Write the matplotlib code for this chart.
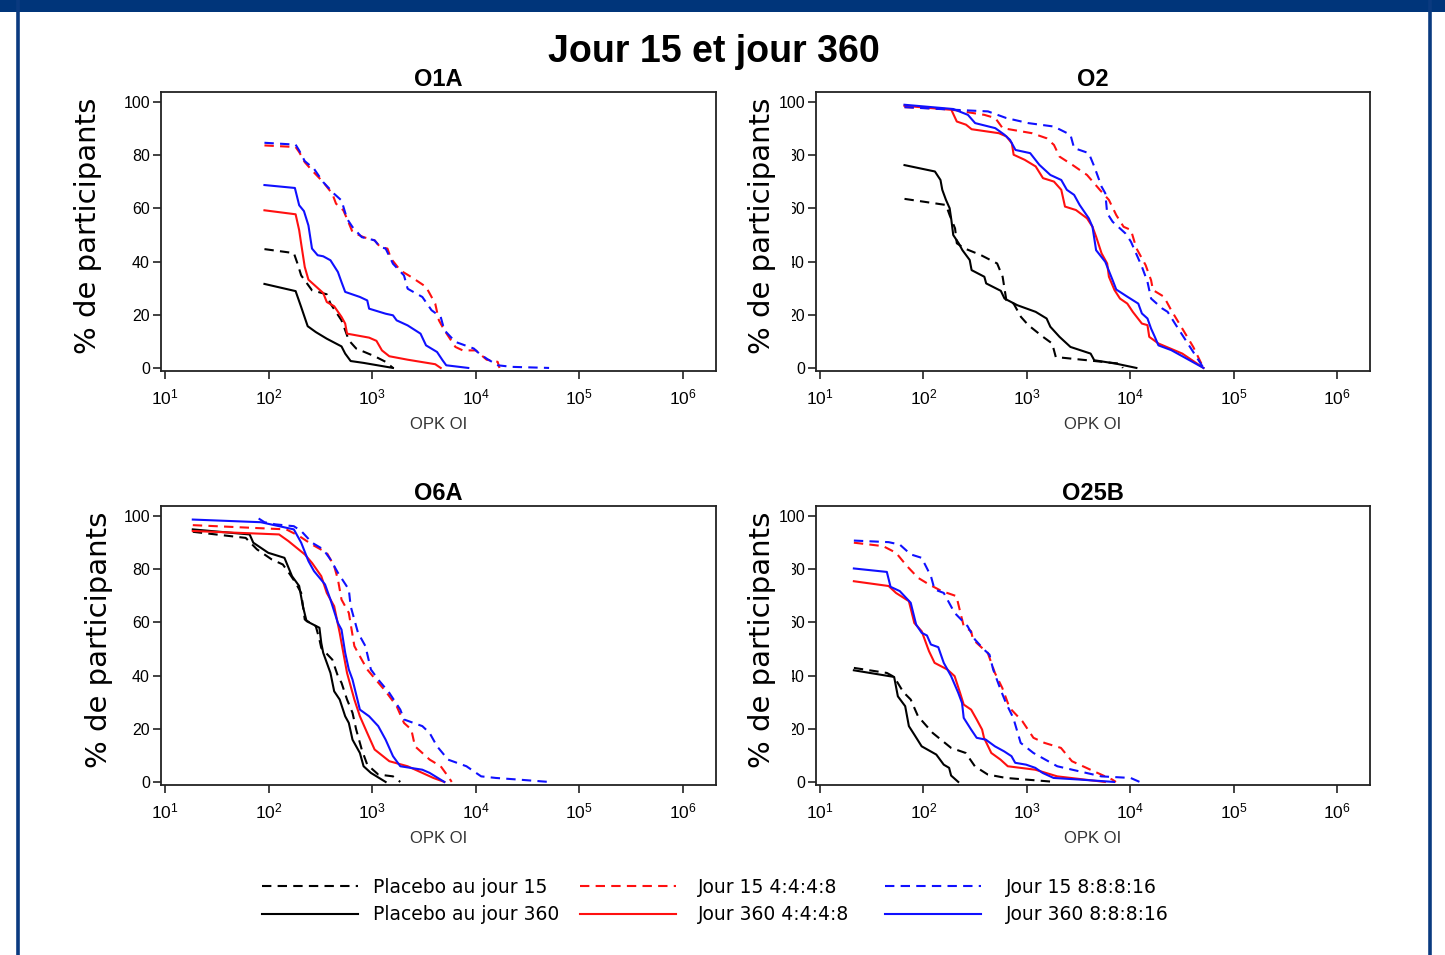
import matplotlib.pyplot as plt
from matplotlib.patches import Rectangle
from matplotlib.lines import Line2D

# ── Data (x = OPK OI titre, y = % of participants) ──
# O1A
o1a_p15_x = [91, 175, 190, 206, 262, 364, 395, 505, 548, 594, 700, 1054, 1347, 1586]
o1a_p15_y = [44.7, 43.2, 39.2, 34.8, 29.2, 27.7, 24.2, 17.9, 14.2, 10.4, 7.3, 4.4, 2.3, 0]
o1a_p360_x = [91, 182, 206, 238, 285, 364, 505, 548, 619, 825, 1586]
o1a_p360_y = [31.6, 28.9, 22.9, 15.7, 13.5, 11.0, 8.1, 5.4, 2.6, 1.9, 0]
o1a_d15_4_x = [91, 182, 197, 223, 262, 336, 412, 447, 526, 571, 645, 825, 1054, 1191,
               1403, 1522, 1867, 2385, 3307, 4059, 4404, 4972, 6356, 7480, 9980,
               12740, 16260, 16940]
o1a_d15_4_y = [83.7, 83.1, 81.2, 77.4, 74.3, 69.9, 65.5, 61.8, 59.3, 56.1, 51.1, 49.2,
               48.0, 45.5, 44.9, 41.1, 36.7, 34.2, 30.5, 24.2, 17.9, 14.2, 7.9, 6.6,
               6.6, 3.1, 2.3, 0]
o1a_d360_4_x = [91, 182, 197, 206, 223, 242, 336, 364, 429, 505, 548, 571, 933, 1098,
                1241, 1462, 2198, 4059, 4584]
o1a_d360_4_y = [59.3, 57.8, 51.8, 46.7, 38.0, 33.2, 28.2, 24.8, 23.2, 19.2, 16.7, 12.9,
                11.4, 10.2, 6.6, 4.4, 3.1, 1.4, 0]
o1a_d15_8_x = [91, 182, 197, 223, 274, 336, 429, 505, 571, 645, 792, 1054, 1191, 1347,
               1586, 2026, 2198, 3047, 3742, 4584, 4972, 6356, 9573, 10820, 12740,
               16260, 22530, 51050]
o1a_d15_8_y = [84.7, 84.0, 81.8, 77.8, 74.9, 69.9, 65.5, 63.0, 56.1, 53.0, 49.2, 48.0,
               45.5, 44.9, 39.2, 34.8, 29.8, 26.7, 21.7, 19.2, 14.2, 9.8, 7.3, 5.4,
               3.5, 1.0, 0.4, 0]
o1a_d360_8_x = [91, 179, 197, 219, 242, 262, 297, 336, 395, 466, 505, 548, 760, 895,
                933, 1347, 1586, 1721, 2198, 2927, 3307, 4227, 4775, 5183, 8466]
o1a_d360_8_y = [68.8, 67.7, 61.2, 59.0, 53.6, 44.9, 42.4, 42.0, 40.5, 36.1, 32.3, 28.6,
                26.7, 25.4, 22.3, 20.4, 19.8, 17.9, 16.0, 12.9, 8.5, 6.0, 2.9, 1.0, 0]

# O2
o2_p15_x = [65.5, 165, 179, 202, 210, 248, 357, 516, 583, 633, 745, 877, 1033, 1432,
            1758, 1905, 3819, 7962, 8492]
o2_p15_y = [63.6, 61.3, 57.5, 52.5, 46.9, 45.0, 42.5, 39.3, 34.3, 25.5, 24.2, 19.2,
            16.1, 11.7, 9.2, 4.1, 2.9, 1.6, 0]
o2_p360_x = [65.5, 129, 146, 152, 165, 179, 186, 194, 219, 238, 280, 292, 388, 404, 560,
             608, 809, 1217, 1553, 1687, 2070, 2642, 4140, 4487, 7328, 11480]
o2_p360_y = [76.3, 73.9, 70.7, 67.0, 63.2, 60.1, 55.7, 50.0, 46.9, 44.3, 40.6, 36.8,
             34.3, 31.8, 29.0, 26.1, 23.6, 21.1, 18.6, 15.5, 11.7, 7.9, 5.4, 2.9, 1.6, 0]
o2_d15_4_x = [65.5, 171, 388, 495, 583, 1122, 1553, 1829, 2070, 2754, 3819, 5082, 6223,
              7328, 8630, 10160, 11480, 14090, 15920, 16600, 21190, 24950, 31920,
              40740, 51170]
o2_d15_4_y = [98.1, 97.4, 95.2, 94.0, 90.2, 88.3, 86.4, 83.9, 79.5, 76.4, 72.6, 67.0,
              63.2, 57.5, 53.1, 51.9, 45.0, 38.7, 33.0, 29.3, 26.8, 21.7, 14.8, 7.9, 0]
o2_d360_4_x = [65.5, 186, 210, 258, 292, 537, 633, 716, 745, 952, 1217, 1432, 1829,
               2153, 2339, 2985, 3819, 4315, 4677, 5284, 5984, 6223, 7047, 7962, 9376,
               10590, 12970, 14690, 15280, 18750, 31920, 51170]
o2_d360_4_y = [98.6, 97.1, 92.7, 91.5, 89.8, 88.3, 87.1, 84.5, 80.2, 78.3, 75.8, 71.4,
               70.1, 67.0, 60.7, 59.4, 56.3, 53.1, 49.4, 43.1, 39.3, 34.3, 29.3, 26.1,
               24.2, 21.1, 16.7, 16.1, 11.7, 9.2, 5.4, 0]
o2_d15_8_x = [65.5, 202, 421, 633, 1033, 1829, 2642, 2866, 3972, 4487, 5284, 5741,
              5984, 6761, 8995, 10160, 11040, 12970, 14690, 15920, 20370, 23010,
              27100, 36060, 51170]
o2_d15_8_y = [98.1, 97.1, 96.5, 94.0, 92.1, 90.8, 87.7, 82.7, 80.8, 75.8, 68.2, 65.7,
              58.2, 55.0, 50.6, 47.5, 44.3, 38.1, 32.4, 26.1, 22.4, 21.1, 16.7, 9.2, 0]
o2_d360_8_x = [65.5, 194, 269, 316, 495, 608, 687, 776, 1077, 1321, 1687, 2153, 2438,
               2866, 3243, 3972, 4315, 4677, 5741, 6761, 7328, 9376, 11970, 12970,
               14690, 15920, 17300, 18750, 24950, 51170]
o2_d360_8_y = [99.0, 97.4, 95.2, 92.1, 90.2, 87.7, 85.8, 82.0, 80.8, 76.4, 72.6, 70.7,
               67.0, 65.1, 61.3, 56.3, 53.1, 44.3, 39.9, 33.0, 29.5, 26.8, 24.2, 20.5,
               18.6, 14.8, 11.7, 8.5, 6.7, 0]

# O6A
o6a_p15_x = [18.5, 60, 77, 107, 137, 161, 182, 206, 223, 285, 309, 322, 412, 466, 505,
             571, 645, 700, 792, 895, 1143, 1586, 1867]
o6a_p15_y = [94.1, 91.8, 87.5, 83.7, 81.8, 78.0, 74.9, 71.1, 61.1, 58.6, 53.6, 50.4,
             46.0, 39.8, 37.3, 31.0, 26.0, 19.7, 12.2, 6.5, 2.8, 2.1, 0]
o6a_p360_x = [18.5, 65.5, 71, 99, 142, 168, 197, 214, 232, 309, 322, 336, 395, 429, 485,
              548, 594, 645, 760, 825, 971, 1347]
o6a_p360_y = [95.0, 93.1, 90.0, 86.2, 84.3, 77.4, 73.7, 66.1, 60.5, 58.0, 52.3, 48.6,
              41.0, 34.1, 31.0, 24.7, 22.2, 15.9, 10.9, 5.9, 3.4, 0]
o6a_d15_4_x = [18.5, 148, 197, 262, 364, 429, 466, 505, 594, 672, 792, 895, 1012, 1347,
               1721, 2026, 2385, 2588, 3586, 4584, 5397, 5858]
o6a_d15_4_y = [96.6, 95.0, 92.5, 89.3, 86.2, 81.2, 76.2, 68.6, 63.6, 51.1, 46.0, 42.3,
               39.8, 34.1, 28.5, 22.2, 19.7, 13.4, 8.4, 5.9, 2.1, 0]
o6a_d360_4_x = [18.5, 126, 155, 223, 262, 322, 364, 429, 485, 505, 571, 672, 760, 895,
                1054, 1462, 2198, 3047, 3896, 4972]
o6a_d360_4_y = [94.4, 93.1, 90.6, 85.6, 82.4, 77.4, 71.1, 66.1, 56.1, 52.3, 41.0, 31.0,
                24.7, 18.4, 12.2, 7.8, 5.9, 3.4, 1.5, 0]
o6a_d15_8_x = [80, 91, 116, 175, 206, 262, 336, 395, 466, 594, 619, 729, 859, 971, 1143,
               1462, 1867, 2026, 3047, 3586, 4227, 5397, 8128, 11270, 15630, 25520, 51050]
o6a_d15_8_y = [99.1, 97.7, 96.9, 96.2, 94.4, 90.0, 87.5, 83.7, 78.7, 72.4, 66.1, 56.1,
               51.1, 42.3, 38.5, 33.5, 27.2, 23.5, 21.0, 18.4, 13.4, 8.4, 5.9, 2.1, 1.5,
               0.9, 0]
o6a_d360_8_x = [18.5, 84, 175, 206, 242, 274, 350, 395, 466, 505, 548, 594, 645, 760,
                933, 1143, 1347, 1586, 1867, 3047, 3586, 4972]
o6a_d360_8_y = [98.7, 97.7, 95.0, 90.0, 83.1, 79.3, 74.3, 68.6, 59.8, 57.3, 48.6, 42.3,
                38.5, 27.2, 24.7, 21.0, 15.9, 9.7, 5.9, 4.6, 3.4, 0]

# O25B
o25b_p15_x = [21.2, 44.2, 52.0, 63.8, 75.2, 88.5, 123, 185, 256, 314, 418, 628, 1892]
o25b_p15_y = [42.9, 41.0, 39.5, 33.8, 31.0, 24.7, 18.4, 12.8, 10.9, 5.9, 2.8, 1.5, 0]
o25b_p360_x = [21.2, 52.0, 56.5, 66.5, 72.2, 81.5, 96, 133, 157, 177, 185, 217]
o25b_p360_y = [42.0, 39.5, 32.2, 28.5, 21.0, 17.8, 13.4, 10.3, 6.5, 5.3, 2.4, 0]
o25b_d15_4_x = [21.2, 40.7, 54.2, 69.2, 88.5, 113, 150, 208, 245, 289, 301, 369, 418,
                491, 578, 681, 906, 1158, 1479, 2138, 2729, 4456, 6699, 7278]
o25b_d15_4_y = [90.0, 88.7, 86.2, 81.2, 76.8, 74.3, 71.8, 69.9, 58.6, 56.7, 53.6, 50.4,
                48.6, 41.0, 35.4, 27.9, 22.8, 16.6, 14.7, 12.8, 7.8, 4.0, 0.9, 0]
o25b_d360_4_x = [21.2, 46, 54.2, 72.2, 81.5, 96, 113, 128, 170, 200, 226, 245, 289, 327,
                 369, 385, 453, 556, 654, 1207, 1968, 5689]
o25b_d360_4_y = [75.5, 73.7, 71.1, 68.0, 59.8, 56.7, 49.2, 44.8, 42.3, 39.8, 33.5, 29.1,
                 27.2, 23.5, 19.7, 16.6, 10.9, 8.4, 5.9, 4.6, 2.1, 0]
o25b_d15_8_x = [21.2, 46, 58.9, 75.2, 96, 118, 128, 157, 200, 267, 314, 385, 435, 472,
                556, 628, 739, 871, 1158, 1968, 3214, 5248, 10090, 12360]
o25b_d15_8_y = [90.8, 90.2, 89.3, 85.6, 84.3, 77.4, 72.4, 71.1, 63.6, 58.6, 53.6, 49.8,
                47.9, 42.3, 34.8, 29.7, 24.1, 14.7, 10.9, 5.9, 4.0, 2.1, 1.5, 0]
o25b_d360_8_x = [21.2, 44.2, 48, 58.9, 75.2, 84.9, 96, 108, 118, 139, 157, 185, 217,
                 236, 245, 289, 327, 401, 491, 603, 710, 771, 984, 1207, 1419, 1815,
                 3214, 6982]
o25b_d360_8_y = [80.3, 79.0, 73.4, 71.8, 67.4, 59.2, 56.1, 55.1, 51.7, 50.7, 44.8, 39.8,
                 33.5, 29.7, 24.1, 19.7, 16.6, 15.9, 13.4, 11.5, 9.7, 7.2, 6.5, 5.3, 3.4,
                 1.5, 0.9, 0]

panel_titles = ['O1A', 'O2', 'O6A', 'O25B']
series_labels = ['Placebo au jour 15', 'Placebo au jour 360',
                 'Jour 15 4:4:4:8', 'Jour 360 4:4:4:8',
                 'Jour 15 8:8:8:16', 'Jour 360 8:8:8:16']

panels = {
    'O1A': [(o1a_p15_x, o1a_p15_y), (o1a_p360_x, o1a_p360_y),
            (o1a_d15_4_x, o1a_d15_4_y), (o1a_d360_4_x, o1a_d360_4_y),
            (o1a_d15_8_x, o1a_d15_8_y), (o1a_d360_8_x, o1a_d360_8_y)],
    'O2': [(o2_p15_x, o2_p15_y), (o2_p360_x, o2_p360_y),
           (o2_d15_4_x, o2_d15_4_y), (o2_d360_4_x, o2_d360_4_y),
           (o2_d15_8_x, o2_d15_8_y), (o2_d360_8_x, o2_d360_8_y)],
    'O6A': [(o6a_p15_x, o6a_p15_y), (o6a_p360_x, o6a_p360_y),
            (o6a_d15_4_x, o6a_d15_4_y), (o6a_d360_4_x, o6a_d360_4_y),
            (o6a_d15_8_x, o6a_d15_8_y), (o6a_d360_8_x, o6a_d360_8_y)],
    'O25B': [(o25b_p15_x, o25b_p15_y), (o25b_p360_x, o25b_p360_y),
             (o25b_d15_4_x, o25b_d15_4_y), (o25b_d360_4_x, o25b_d360_4_y),
             (o25b_d15_8_x, o25b_d15_8_y), (o25b_d360_8_x, o25b_d360_8_y)],
}

colors = ['black', 'black', '#ff1010', '#ff1010', '#1010ff', '#1010ff']
dashed = [True, False, True, False, True, False]

navy = '#0a3a80'
W, H = 1445, 955

fig = plt.figure(figsize=(W / 100, H / 100), dpi=100)
fig.patch.set_facecolor('white')

# frame decoration of the original slide
fig.patches.append(Rectangle((0, 1 - 12 / H), 1, 12 / H, transform=fig.transFigure,
                             facecolor='#00357a', edgecolor='none'))
for xp in (17.5, 1429.5):
    fig.lines.append(Line2D([xp / W, xp / W], [0, 1], transform=fig.transFigure,
                            color=navy, lw=2.6))

# ── Panels ──
positions = {
    'O1A': (161, 92, 555, 279),
    'O2': (816, 92, 554, 279),
    'O6A': (161, 506, 555, 279),
    'O25B': (816, 506, 554, 279),
}
ylabel_x = {'O1A': -0.106, 'O2': -0.072, 'O6A': -0.087, 'O25B': -0.072}

handles = []
for name in panel_titles:
    px, py, pw, ph = positions[name]
    ax = fig.add_axes([px / W, 1 - (py + ph) / H, pw / W, ph / H])
    for i, (xs, ys) in enumerate(panels[name]):
        ln, = ax.plot(xs, ys, color=colors[i], lw=1.5, label=series_labels[i])
        if dashed[i]:
            ln.set_dashes((4.5, 3))
        if name == 'O1A':
            handles.append(ln)

    ax.set_xscale('log')
    ax.set_xlim(10 ** 0.96, 10 ** 6.32)
    ax.set_ylim(-1.15, 103.8)
    ax.set_xticks([1e1, 1e2, 1e3, 1e4, 1e5, 1e6])
    ax.minorticks_off()
    ax.set_yticks([0, 20, 40, 60, 80, 100])
    ax.tick_params(direction='out', length=6, width=1.2, color='#222222')
    ax.tick_params(axis='x', labelsize=12.5, pad=6)
    ax.tick_params(axis='y', labelsize=11.5, pad=2)
    for lab in ax.get_xticklabels() + ax.get_yticklabels():
        lab.set_family('Liberation Sans')
    for sp in ax.spines.values():
        sp.set_linewidth(1.3)
        sp.set_color('#222222')

    ax.set_title(name, fontsize=17, fontweight='bold', family='Liberation Sans', pad=4)
    ax.set_xlabel('OPK OI', fontsize=12, family='Liberation Sans', color='#333333')
    ax.xaxis.set_label_coords(0.5, -0.165)
    ax.set_ylabel('% de participants', fontsize=21)
    ax.yaxis.set_label_coords(ylabel_x[name], 0.52)
    if name in ('O2', 'O25B'):
        # in the original the first digit of these tick labels is partly hidden
        ax.add_patch(Rectangle((-0.069, -0.03), 0.026, 0.96, transform=ax.transAxes,
                               facecolor='white', edgecolor='none', clip_on=False,
                               zorder=3))

fig.text(714 / W, 1 - 52 / H, 'Jour 15 et jour 360', ha='center', va='center',
         fontsize=27, fontweight='bold', family='Liberation Sans')

# legend: one block per column, placed like the original
col_x = [262, 580, 885]
col_pad = [0.8, 1.2, 1.35]
for c in range(3):
    fig.legend(handles[2 * c:2 * c + 2], series_labels[2 * c:2 * c + 2],
               loc='upper left', bbox_to_anchor=(col_x[c] / W, 1 - 878 / H),
               frameon=False, fontsize=13.5, handlelength=5.1,
               handletextpad=col_pad[c], labelspacing=0.45,
               borderpad=0, borderaxespad=0)

fig.savefig('out.png', dpi=100, facecolor='white')
